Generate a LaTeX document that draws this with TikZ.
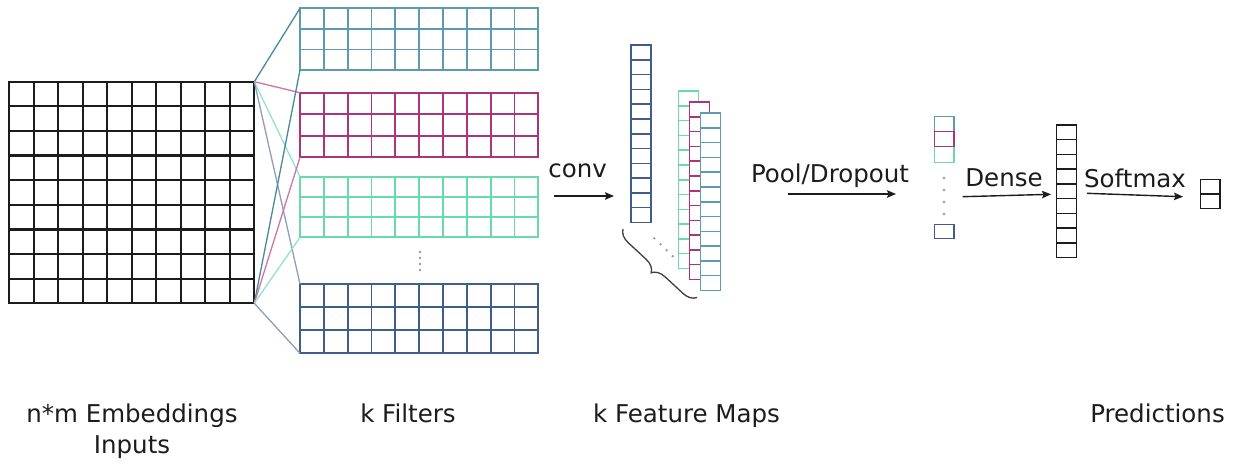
\documentclass[tikz,border=0pt]{standalone}
\usepackage{fontspec}
\setmainfont{DejaVu Sans}
\usetikzlibrary{calc,arrows.meta,decorations.pathreplacing}
\definecolor{tealc}{RGB}{92,156,176}
\definecolor{magc}{RGB}{172,52,122}
\definecolor{mintc}{RGB}{104,218,172}
\definecolor{navyc}{RGB}{64,94,136}
\definecolor{tealline}{RGB}{72,136,156}
\definecolor{magline}{RGB}{204,118,166}
\definecolor{mintline}{RGB}{146,228,198}
\definecolor{navyline}{RGB}{142,158,184}
\definecolor{inkc}{RGB}{28,28,28}
\newcommand\myvlines[4]{%
  \foreach \i in {1,...,#2}{\draw[#4] ($(#1.north west)!\i/#3!(#1.north east)$) -- ($(#1.south west)!\i/#3!(#1.south east)$);}}
\newcommand\myhlines[4]{%
  \foreach \j in {1,...,#2}{\draw[#4] ($(#1.north west)!\j/#3!(#1.south west)$) -- ($(#1.north east)!\j/#3!(#1.south east)$);}}
\tikzset{
  gbox/.style={draw, fill=white, inner sep=0pt, outer sep=0pt, anchor=north west},
  conn/.style={line width=1.3pt},
  flow/.style={line width=1.4pt, inkc, -{Stealth[length=9pt,width=7.5pt,inset=1.5pt]}},
  lbl/.style={text=inkc, font=\fontsize{24.5}{31}\selectfont, inner sep=0pt, anchor=base},
  dotc/.style={fill=gray!80, draw=none, circle, inner sep=0pt, minimum size=2.6pt}
}
\begin{document}
\begin{tikzpicture}[x=1pt,y=-1pt]
\useasboundingbox[fill=white] (0,0) rectangle (1244,464);

% input grid
\node[gbox, draw=inkc, line width=2.2pt, minimum width=245pt, minimum height=221.6pt] (inp) at (9.3,81.7) {};
\myvlines{inp}{9}{10}{inkc, line width=2.2pt}
\myhlines{inp}{8}{9}{inkc, line width=2.2pt}

% filters
\tikzset{fil/.style={gbox, line width=1.8pt, minimum width=238.3pt}}
\node[fil, draw=tealc, minimum height=61.7pt] (f1) at (300,8.3) {};
\node[fil, draw=magc, minimum height=64.6pt] (f2) at (300,92.7) {};
\node[fil, draw=mintc, minimum height=60.6pt] (f3) at (300,176.7) {};
\node[fil, draw=navyc, minimum height=69.3pt] (f4) at (300,284) {};
\myvlines{f1}{9}{10}{tealc, line width=1.8pt}\myhlines{f1}{2}{3}{tealc, line width=1.8pt}
\myvlines{f2}{9}{10}{magc, line width=1.8pt}\myhlines{f2}{2}{3}{magc, line width=1.8pt}
\myvlines{f3}{9}{10}{mintc, line width=1.8pt}\myhlines{f3}{2}{3}{mintc, line width=1.8pt}
\myvlines{f4}{9}{10}{navyc, line width=1.8pt}\myhlines{f4}{2}{3}{navyc, line width=1.8pt}
\node[dotc] (fd1) at (420,252) {};
\node[dotc] (fd2) at (420,258) {};
\node[dotc] (fd3) at (420,264) {};
\node[dotc] (fd4) at (420,270) {};

% connectors input -> filters
\draw[conn, tealline] (inp.north east) -- (f1.north west);
\draw[conn, magline] (inp.north east) -- (f2.north west);
\draw[conn, mintline] (inp.north east) -- (f3.north west);
\draw[conn, navyline] (inp.north east) -- (f4.north west);
\draw[conn, tealline] (inp.south east) -- (f1.south west);
\draw[conn, magline] (inp.south east) -- (f2.south west);
\draw[conn, mintline] (inp.south east) -- (f3.south west);
\draw[conn, navyline] (inp.south east) -- (f4.south west);

% conv arrow
\node[lbl] (tconv) at (577.7,177.7) {conv};
\coordinate (c1) at (554,196);
\coordinate (c2) at (614,196);
\draw[flow] (c1) -- (c2);

% feature maps
\tikzset{fm/.style={gbox, line width=1.5pt, minimum width=20pt, minimum height=177.5pt}}
\node[fm, draw=navyc] (m0) at (631,45) {};
\myhlines{m0}{11}{12}{navyc, line width=1.5pt}
\node[fm, draw=mintc] (m3) at (678.3,91) {};
\myhlines{m3}{11}{12}{mintc, line width=1.5pt}
\node[fm, draw=magc] (m2) at (689.5,102) {};
\myhlines{m2}{11}{12}{magc, line width=1.5pt}
\node[fm, draw=tealc] (m1) at (700.7,113) {};
\myhlines{m1}{11}{12}{tealc, line width=1.5pt}
\node[dotc] (md1) at (654.3,238.3) {};
\node[dotc] (md2) at (660.5,244.3) {};
\node[dotc] (md3) at (666.7,250.2) {};
\node[dotc] (md4) at (672.7,256.2) {};
\coordinate (b1) at (697,297.5);
\coordinate (b2) at (623,229);
\draw[line width=1.3pt, inkc!85, decorate, decoration={brace, amplitude=13pt}] (b1) -- (b2);

% pool/dropout
\node[lbl] (tpool) at (830,182.7) {Pool/Dropout};
\coordinate (p1) at (788,194);
\coordinate (p2) at (896,194);
\draw[flow] (p1) -- (p2);

% pooled vector
\tikzset{pv/.style={gbox, line width=1.5pt, minimum width=19.7pt}}
\node[pv, draw=tealc, minimum height=15pt] (v1) at (934.3,116.7) {};
\node[pv, draw=mintc, minimum height=16pt] (v3) at (934.3,146.7) {};
\node[pv, draw=magc, minimum height=15pt] (v2) at (934.3,131.7) {};
\node[pv, draw=navyc, minimum height=14pt] (v4) at (934.3,224.3) {};
\node[dotc] (vd1) at (944,178) {};
\node[dotc] (vd2) at (944,190) {};
\node[dotc] (vd3) at (944,202) {};
\node[dotc] (vd4) at (944,214) {};

% dense
\node[lbl] (tdense) at (1004,186) {Dense};
\coordinate (d1) at (962.7,196.7);
\coordinate (d2) at (1051,194.3);
\draw[flow] (d1) -- (d2);
\node[gbox, draw=inkc, line width=1.5pt, minimum width=20pt, minimum height=132.7pt] (dn) at (1056.7,125) {};
\myhlines{dn}{8}{9}{inkc, line width=1.5pt}

% softmax
\node[lbl] (tsoft) at (1135,187.3) {Softmax};
\coordinate (s1) at (1087,193.3);
\coordinate (s2) at (1183,196.7);
\draw[flow] (s1) -- (s2);
\node[gbox, draw=inkc, line width=1.5pt, minimum width=19.3pt, minimum height=29pt] (out) at (1200.7,179.3) {};
\myhlines{out}{1}{2}{inkc, line width=1.5pt}

% bottom labels
\node[lbl, align=center] (l1) at (132,453.3) {n*m Embeddings\\Inputs};
\node[lbl] (l2) at (408,422.3) {k Filters};
\node[lbl] (l3) at (686.5,422.3) {k Feature Maps};
\node[lbl] (l4) at (1157.5,422.3) {Predictions};
\end{tikzpicture}
\end{document}
